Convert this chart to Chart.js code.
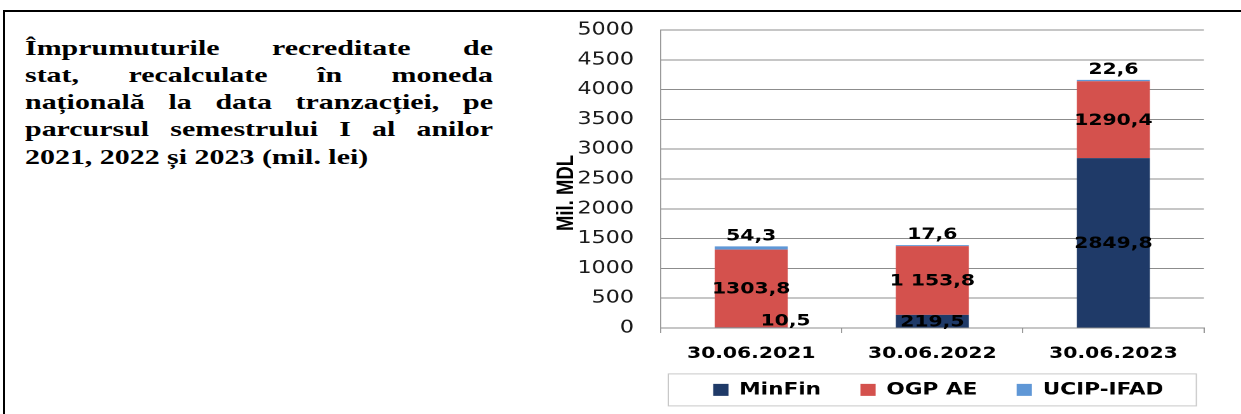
<!DOCTYPE html>
<html>
<head>
<meta charset="utf-8">
<script src="https://cdn.jsdelivr.net/npm/chart.js@4/dist/chart.umd.min.js"></script>
<style>
html,body{margin:0;padding:0;background:#fff;overflow:hidden;width:1241px;height:414px;position:relative;}
#frame{position:absolute;left:3px;top:10px;width:1260px;height:420px;border-top:2px solid #000;border-left:2px solid #000;box-sizing:border-box;}
#txt{position:absolute;left:25px;top:33.5px;width:344.1px;transform:scaleX(1.36);transform-origin:0 0;font-family:"Liberation Serif","Times New Roman",serif;font-weight:bold;font-size:22px;line-height:27.25px;color:#000;}
#txt div{text-align:justify;text-align-last:justify;white-space:nowrap;}
#txt div.last{text-align:left;text-align-last:left;}
#wrap{position:absolute;left:540px;top:0;width:608px;height:414px;transform:scaleX(1.27);transform-origin:0 0;}
#c{display:block;}
</style>
</head>
<body>
<div id="frame"></div>
<div id="txt">
<div>Împrumuturile recreditate de</div>
<div>stat, recalculate în moneda</div>
<div>națională la data tranzacției, pe</div>
<div>parcursul semestrului I al anilor</div>
<div class="last">2021, 2022 și 2023 (mil. lei)</div>
</div>
<div id="wrap"><canvas id="c" width="608" height="414" style="width:608px;height:414px"></canvas></div>
<script>
// ---- data ----
const categories = ['30.06.2021', '30.06.2022', '30.06.2023'];
const seriesNames = ['MinFin', 'OGP AE', 'UCIP-IFAD'];
const minFin = [10.5, 219.5, 2849.8];
const ogpAe = [1303.8, 1153.8, 1290.4];
const ucipIfad = [54.3, 17.6, 22.6];
const minFinLabels = ['10,5', '219,5', '2849,8'];
const ogpAeLabels = ['1303,8', '1 153,8', '1290,4'];
const ucipIfadLabels = ['54,3', '17,6', '22,6'];
const yMin = 0, yMax = 5000, yStep = 500;
const yTitle = 'Mil. MDL';

const valueLabelPlugin = {
  id: 'valueLabels',
  afterDatasetsDraw(chart) {
    const ctx = chart.ctx;
    ctx.save();
    ctx.font = 'bold 16px "DejaVu Sans"';
    ctx.fillStyle = '#000';
    ctx.textAlign = 'center';
    const n = chart.data.datasets.length;
    chart.data.datasets.forEach((ds, di) => {
      const meta = chart.getDatasetMeta(di);
      meta.data.forEach((bar, i) => {
        const text = ds.valueLabels[i];
        const p = bar.getProps(['x', 'y', 'base', 'width'], true);
        if (di === n - 1) {
          ctx.textBaseline = 'alphabetic';
          ctx.fillText(text, p.x, p.y - 6);
        } else if (Math.abs(p.base - p.y) < 4) {
          ctx.textBaseline = 'middle';
          ctx.fillText(text, p.x + p.width * 0.47, p.base - 6);
        } else {
          ctx.textBaseline = 'middle';
          ctx.fillText(text, p.x, (p.y + p.base) / 2 + 1);
        }
      });
    });
    ctx.restore();
  }
};

const decorPlugin = {
  id: 'decor',
  afterDraw(chart) {
    const {ctx, chartArea, legend} = chart;
    ctx.save();
    const pad = legend.options.labels.padding;
    const cy = legend.top + pad + 8.5;
    ctx.strokeStyle = '#c8c8c8';
    ctx.lineWidth = 1;
    ctx.strokeRect(chartArea.left + 6, cy - 16, chartArea.right - chartArea.left - 12, 32);
    ctx.translate(21, (chartArea.top + chartArea.bottom) / 2 + 14);
    ctx.rotate(-Math.PI / 2);
    ctx.font = 'bold 18.5px "Liberation Sans"';
    ctx.fillStyle = '#000';
    ctx.textAlign = 'center';
    ctx.textBaseline = 'middle';
    ctx.fillText(yTitle, 0, 0);
    ctx.restore();
  }
};

const chart = new Chart(document.getElementById('c'), {
  type: 'bar',
  data: {
    labels: categories,
    datasets: [
      {label: seriesNames[0], data: minFin, valueLabels: minFinLabels, backgroundColor: '#1f3a68', borderWidth: 0},
      {label: seriesNames[1], data: ogpAe, valueLabels: ogpAeLabels, backgroundColor: '#d4514d', borderWidth: 0},
      {label: seriesNames[2], data: ucipIfad, valueLabels: ucipIfadLabels, backgroundColor: '#5f97d6', borderWidth: 0}
    ]
  },
  options: {
    responsive: false,
    animation: false,
    events: [],
    devicePixelRatio: 2,
    layout: {padding: {left: 20, right: 0.7, top: 30, bottom: 5.6}},
    datasets: {bar: {barPercentage: 0.403, categoryPercentage: 1}},
    plugins: {
      legend: {
        position: 'bottom',
        labels: {boxWidth: 12, boxHeight: 12, padding: 31, color: '#000',
                 font: {family: 'DejaVu Sans', size: 17, weight: 'bold'}}
      },
      tooltip: {enabled: false},
      title: {display: false}
    },
    scales: {
      x: {
        stacked: true,
        afterFit(s) { s.height = 22.4; },
        grid: {drawOnChartArea: false, drawTicks: true, tickLength: 5, color: '#9a9a9a', offset: true},
        border: {display: true, color: '#8c8c8c'},
        ticks: {mirror: true, padding: -35.2, color: '#000', maxRotation: 0, autoSkip: false,
                font: {family: 'DejaVu Sans', size: 16, weight: 'bold'}}
      },
      y: {
        stacked: true,
        min: yMin, max: yMax,
        afterFit(s) { s.width = 75; s.paddingTop = 10; s.paddingBottom = 10; },
        ticks: {stepSize: yStep, padding: 21, color: '#1a1a1a', font: {family: 'DejaVu Sans', size: 17.5},
                callback: (v) => String(v)},
        grid: {color: '#8c8c8c', drawTicks: false, tickLength: 0},
        border: {color: '#9a9a9a'}
      },
      yR: {
        position: 'right',
        display: true,
        afterFit(s) { s.width = 84.5; },
        grid: {display: false},
        ticks: {display: false},
        border: {display: false}
      }
    }
  },
  plugins: [valueLabelPlugin, decorPlugin]
});
if (document.fonts && document.fonts.ready) {
  document.fonts.ready.then(() => chart.update());
}
</script>
</body>
</html>
